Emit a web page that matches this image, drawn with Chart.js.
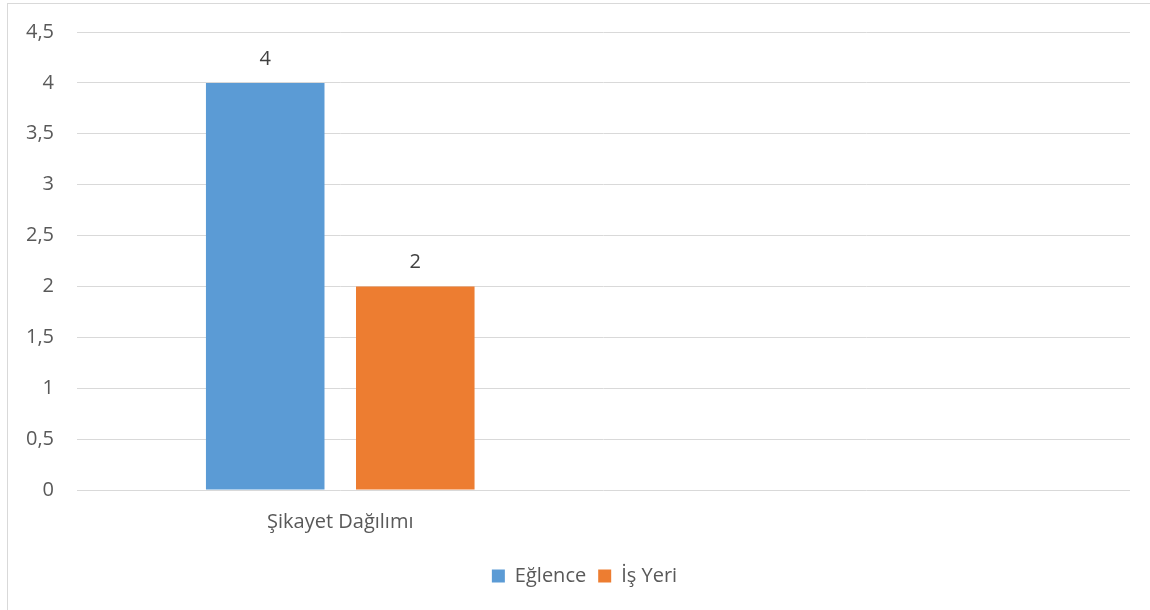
<!DOCTYPE html>
<html>
<head>
<meta charset="utf-8">
<script src="https://cdn.jsdelivr.net/npm/chart.js@4"></script>
<style>
  html, body { margin: 0; padding: 0; background: #fff; overflow: hidden; }
  #frame { position: absolute; left: 7px; top: 3px; width: 1160px; height: 620px; border: 1px solid #d9d9d9; }
  #wrap { position: absolute; left: 7px; top: 0; width: 1161px; height: 610px; }
</style>
</head>
<body>
<div id="frame"></div>
<div id="wrap"><canvas id="chart"></canvas></div>
<script>
// kategoriler ve seriler
const categories = ['Şikayet Dağılımı', ''];
const eglence = [4, null];
const isYeri = [2, null];
const seriesNames = ['Eğlence', 'İş Yeri'];

const colors = {
  blue: '#5b9bd5',
  orange: '#ed7d31',
  text: '#595959',
  label: '#404040',
  grid: '#d9d9d9'
};

const fontFamily = '"Open Sans", Lato, sans-serif';
const fontSize = 20;

// değer etiketleri (çubukların üstünde)
const valueLabels = {
  id: 'valueLabels',
  afterDatasetsDraw(chart) {
    const ctx = chart.ctx;
    ctx.save();
    ctx.font = fontSize + 'px ' + fontFamily;
    ctx.fillStyle = colors.label;
    ctx.textAlign = 'center';
    ctx.textBaseline = 'bottom';
    chart.data.datasets.forEach((ds, i) => {
      chart.getDatasetMeta(i).data.forEach((bar, j) => {
        const v = ds.data[j];
        if (v === null || v === undefined) return;
        ctx.fillText(String(v).replace('.', ','), bar.x, bar.y - 14);
      });
    });
    ctx.restore();
  }
};

// lejantı tüm çerçevenin ortasına kaydır
const centerLegend = {
  id: 'centerLegend',
  afterLayout(chart) {
    const shift = (chart.width - chart.legend.right - chart.legend.left) / 2 - 3;
    chart.legend.left += shift;
    chart.legend.right += shift;
  }
};

new Chart(document.getElementById('chart'), {
  type: 'bar',
  data: {
    labels: categories,
    datasets: [
      { label: seriesNames[0], data: eglence, backgroundColor: colors.blue },
      { label: seriesNames[1], data: isYeri, backgroundColor: colors.orange }
    ]
  },
  options: {
    responsive: true,
    maintainAspectRatio: false,
    animation: false,
    datasets: { bar: { categoryPercentage: 0.57, barPercentage: 0.79 } },
    layout: { padding: { top: 32, right: 38, bottom: 14, left: 0 } },
    plugins: {
      legend: {
        position: 'bottom',
        labels: {
          color: colors.text,
          font: { family: fontFamily, size: fontSize },
          boxWidth: 13,
          boxHeight: 13,
          padding: 12
        }
      },
      tooltip: { enabled: false }
    },
    scales: {
      x: {
        grid: { display: false, drawTicks: false },
        border: { display: false },
        ticks: { color: colors.text, font: { family: fontFamily, size: fontSize }, padding: 20 }
      },
      y: {
        min: 0,
        max: 4.5,
        afterFit(scale) {
          scale.width = 70;
          scale.paddingTop = 0;
          scale.paddingBottom = 0;
        },
        grid: { color: colors.grid, lineWidth: 1, drawTicks: false },
        border: { display: false },
        ticks: {
          stepSize: 0.5,
          color: colors.text,
          font: { family: fontFamily, size: fontSize },
          padding: 23,
          callback: v => String(v).replace('.', ',')
        }
      }
    }
  },
  plugins: [valueLabels, centerLegend]
});
</script>
</body>
</html>
